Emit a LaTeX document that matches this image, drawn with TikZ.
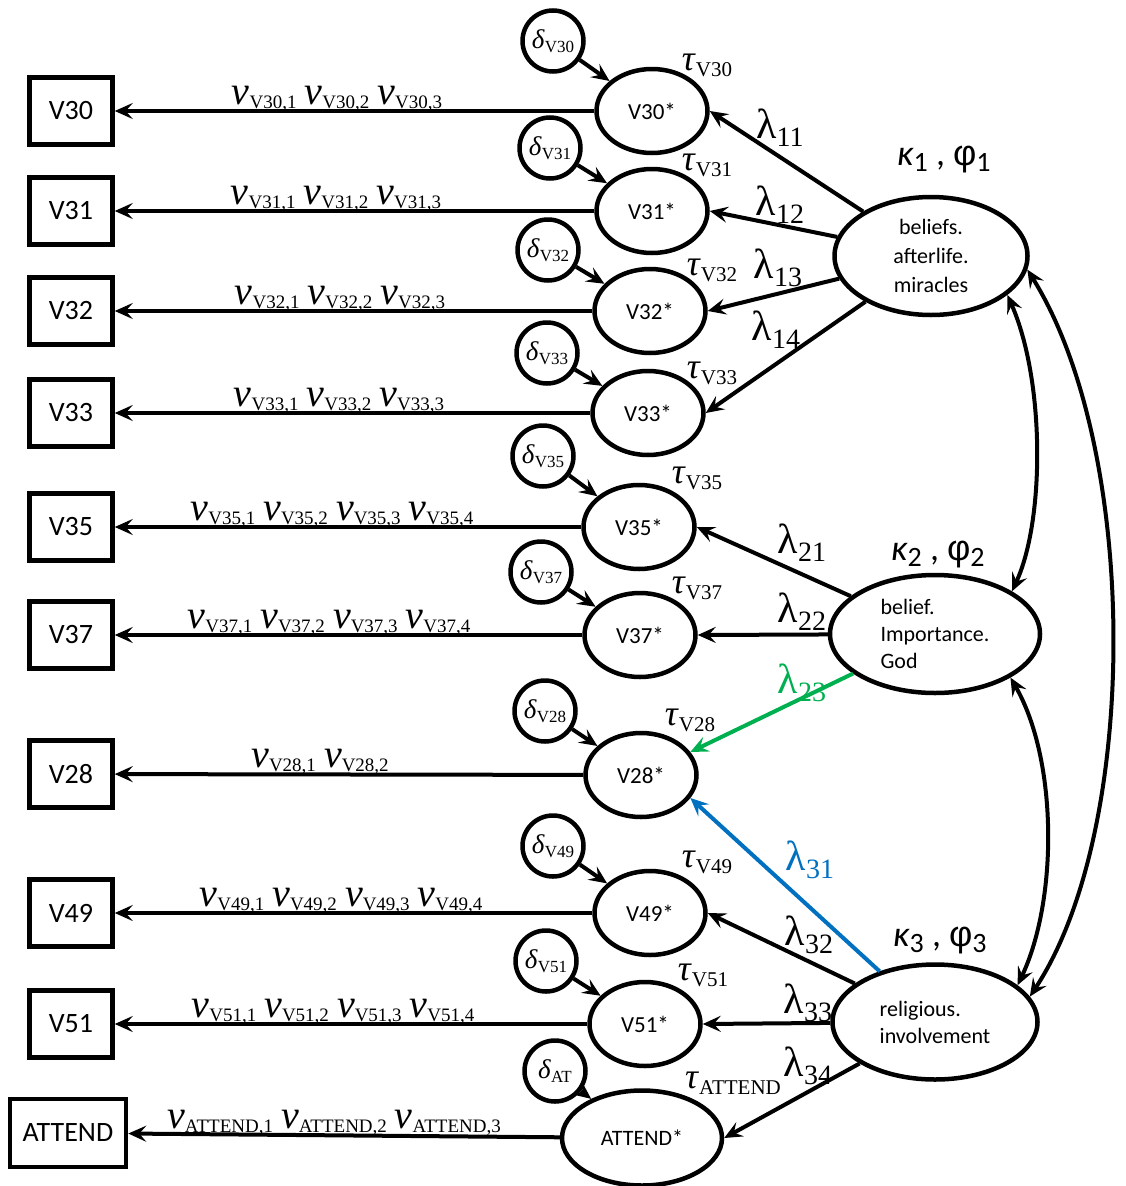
\documentclass[tikz,border=0pt]{standalone}
\usepackage{fontspec}
\setmainfont{Carlito}
\newfontfamily\tms{Liberation Serif}
\newfontfamily\arl{Liberation Sans}
\usetikzlibrary{shapes.geometric,arrows.meta}
\newcommand{\myfs}[1]{\fontsize{#1}{#1}\selectfont}
\newcommand{\nuv}[1]{{\tms\myfs{40}\textit{ν}}\lower4pt\hbox{\tms\myfs{19}#1}}
\newcommand{\nugap}{\hspace{8pt}}
\newcommand{\tauv}[1]{{\tms\myfs{36}\textit{τ}}\lower6pt\hbox{\tms\myfs{21}#1}}
\newcommand{\lamv}[1]{{\tms\myfs{42}λ}\lower8pt\hbox{\tms\myfs{28}#1}}
\newcommand{\delv}[1]{{\tms\myfs{27}\textit{δ}}\lower4pt\hbox{\tms\myfs{17}#1}}
\newcommand{\kapv}[1]{{\myfs{36}\itshape κ}\lower6pt\hbox{\myfs{28}#1}{\myfs{36}\ ,\ }{\arl\myfs{36}φ}\lower6pt\hbox{\myfs{28}#1}}
\definecolor{lgreen}{RGB}{0,176,80}
\definecolor{lblue}{RGB}{0,112,192}
\tikzset{
  obs/.style={draw, line width=4.5pt, minimum width=83pt, minimum height=67pt, inner sep=0pt, font=\myfs{28}},
  ind/.style={draw, ellipse, line width=4.5pt, minimum width=111pt, minimum height=84pt, inner sep=0pt, font=\myfs{23}},
  err/.style={draw, circle, line width=4.5pt, minimum size=61pt, inner sep=0pt},
  lat/.style={draw, ellipse, line width=4.5pt, inner sep=0pt, font=\fontsize{22}{29}\selectfont},
  arr/.style={line width=4pt, -{Stealth[length=18pt,width=16pt,inset=7pt]}},
  dbl/.style={line width=4pt, {Stealth[length=18pt,width=16pt,inset=7pt]}-{Stealth[length=18pt,width=16pt,inset=7pt]}},
  lab/.style={inner sep=0pt, anchor=base},
  plain/.style={inner sep=0pt}
}
\begin{document}
\begin{tikzpicture}[x=1pt,y=-1pt]
\useasboundingbox (0,0) rectangle (1126,1186);
% observed boxes
\node[obs] (V30) at (71,111) {V30};
\node[obs] (V31) at (71,211) {V31};
\node[obs] (V32) at (71,311) {V32};
\node[obs] (V33) at (71,413) {V33};
\node[obs] (V35) at (71,527) {V35};
\node[obs] (V37) at (71,635) {V37};
\node[obs] (V28) at (71,774) {V28};
\node[obs] (V49) at (71,913) {V49};
\node[obs] (V51) at (71,1024) {V51};
\node[obs, minimum width=116pt, minimum height=68pt] (AT) at (68,1133) {ATTEND};
% indicator ellipses
\node[ind] (V30s) at (652,111) {V30*};
\node[ind] (V31s) at (652,211) {V31*};
\node[ind] (V32s) at (650,311) {V32*};
\node[ind] (V33s) at (648,413) {V33*};
\node[ind] (V35s) at (639,527) {V35*};
\node[ind] (V37s) at (640,635) {V37*};
\node[ind] (V28s) at (641,775) {V28*};
\node[ind] (V49s) at (650,913) {V49*};
\node[ind] (V51s) at (645,1024) {V51*};
\node[ind, minimum width=160pt, minimum height=95pt, font=\myfs{22}] (ATs) at (642,1138) {ATTEND*};
% error circles
\node[err] (d30) at (553,41) {\delv{V30}};
\node[err] (d31) at (550,148) {\delv{V31}};
\node[err] (d32) at (548,250) {\delv{V32}};
\node[err] (d33) at (547,353) {\delv{V33}};
\node[err] (d35) at (543,456) {\delv{V35}};
\node[err] (d37) at (541,572) {\delv{V37}};
\node[err] (d28) at (545,711) {\delv{V28}};
\node[err] (d49) at (553,846) {\delv{V49}};
\node[err] (d51) at (546,961) {\delv{V51}};
\node[err] (dAT) at (555,1071) {\delv{AT}};
% latent ellipses
\node[lat, minimum width=193pt, minimum height=118pt, align=center] (F1) at (931,256) {beliefs.\\afterlife.\\miracles};
\node[lat, minimum width=210pt, minimum height=118pt, align=left, font=\fontsize{22}{27}\selectfont] (F2) at (935,634) {belief.\\Importance.\\God};
\node[lat, minimum width=205pt, minimum height=115pt, align=left, font=\fontsize{22}{27}\selectfont] (F3) at (935,1022) {religious.\\involvement};
% kappa labels
\node[plain] (k1) at (944,160) {\kapv{1}};
\node[plain] (k2) at (938,555) {\kapv{2}};
\node[plain] (k3) at (940,941) {\kapv{3}};
% error arrows
\foreach \a/\b in {d30/V30s,d31/V31s,d32/V32s,d33/V33s,d35/V35s,d37/V37s,d28/V28s,d49/V49s,d51/V51s,dAT/ATs}
  \draw[arr] (\a) -- (\b);
% threshold arrows
\foreach \a/\b in {V30s/V30,V31s/V31,V32s/V32,V33s/V33,V35s/V35,V37s/V37,V28s/V28,V49s/V49,V51s/V51,ATs/AT}
  \draw[arr] (\a) -- (\b);
% nu labels
\node[lab] (n30) at (337,104) {\nuv{V30,1}\nugap\nuv{V30,2}\nugap\nuv{V30,3}};
\node[lab] (n31) at (336,204) {\nuv{V31,1}\nugap\nuv{V31,2}\nugap\nuv{V31,3}};
\node[lab] (n32) at (340,304) {\nuv{V32,1}\nugap\nuv{V32,2}\nugap\nuv{V32,3}};
\node[lab] (n33) at (339,406) {\nuv{V33,1}\nugap\nuv{V33,2}\nugap\nuv{V33,3}};
\node[lab] (n35) at (332,520) {\nuv{V35,1}\nugap\nuv{V35,2}\nugap\nuv{V35,3}\nugap\nuv{V35,4}};
\node[lab] (n37) at (329,628) {\nuv{V37,1}\nugap\nuv{V37,2}\nugap\nuv{V37,3}\nugap\nuv{V37,4}};
\node[lab] (n28) at (320,767) {\nuv{V28,1}\nugap\nuv{V28,2}};
\node[lab] (n49) at (341,906) {\nuv{V49,1}\nugap\nuv{V49,2}\nugap\nuv{V49,3}\nugap\nuv{V49,4}};
\node[lab] (n51) at (333,1017) {\nuv{V51,1}\nugap\nuv{V51,2}\nugap\nuv{V51,3}\nugap\nuv{V51,4}};
\node[lab] (nAT) at (334,1128) {\nuv{ATTEND,1}\nugap\nuv{ATTEND,2}\nugap\nuv{ATTEND,3}};
% tau labels
\node[plain] (t30) at (707,65) {\tauv{V30}};
\node[plain] (t31) at (707,165) {\tauv{V31}};
\node[plain] (t32) at (712,270) {\tauv{V32}};
\node[plain] (t33) at (712,373) {\tauv{V33}};
\node[plain] (t35) at (697,478) {\tauv{V35}};
\node[plain] (t37) at (697,588) {\tauv{V37}};
\node[plain] (t28) at (690,720) {\tauv{V28}};
\node[plain] (t49) at (707,862) {\tauv{V49}};
\node[plain] (t51) at (703,975) {\tauv{V51}};
\node[plain] (tAT) at (733,1083) {\tauv{ATTEND}};
% loadings
\draw[arr] (F1) -- (V30s.east);
\draw[arr] (F1) -- (V31s.east);
\draw[arr] (F1) -- (V32s.east);
\draw[arr] (F1) -- (V33s.east);
\draw[arr] (F2) -- (V35s.east);
\draw[arr] (F2) -- (V37s.east);
\draw[arr, draw=lgreen, fill=lgreen] (F2) -- (V28s.25);
\draw[arr, draw=lblue, fill=lblue] (F3) -- (V28s.-25);
\draw[arr] (F3) -- (V49s.east);
\draw[arr] (F3) -- (V51s.east);
\draw[arr] (F3) -- (ATs.east);
% lambda labels
\node[plain] (l11) at (780,128) {\lamv{11}};
\node[plain] (l12) at (780,205) {\lamv{12}};
\node[plain] (l13) at (778,268) {\lamv{13}};
\node[plain] (l14) at (776,330) {\lamv{14}};
\node[plain] (l21) at (802,543) {\lamv{21}};
\node[plain] (l22) at (802,612) {\lamv{22}};
\node[plain, text=lgreen] (l23) at (802,683) {\lamv{23}};
\node[plain, text=lblue] (l31) at (810,860) {\lamv{31}};
\node[plain] (l32) at (809,935) {\lamv{32}};
\node[plain] (l33) at (808,1003) {\lamv{33}};
\node[plain] (l34) at (808,1066) {\lamv{34}};
% covariances
\draw[dbl] (F1.-27) .. controls (1045,380) and (1045,520) .. (F2.29);
\draw[dbl] (F1.-8) .. controls (1140,450) and (1140,830) .. (F3.15);
\draw[dbl] (F2.-30) .. controls (1058,760) and (1058,900) .. (F3.24);
\end{tikzpicture}
\end{document}
